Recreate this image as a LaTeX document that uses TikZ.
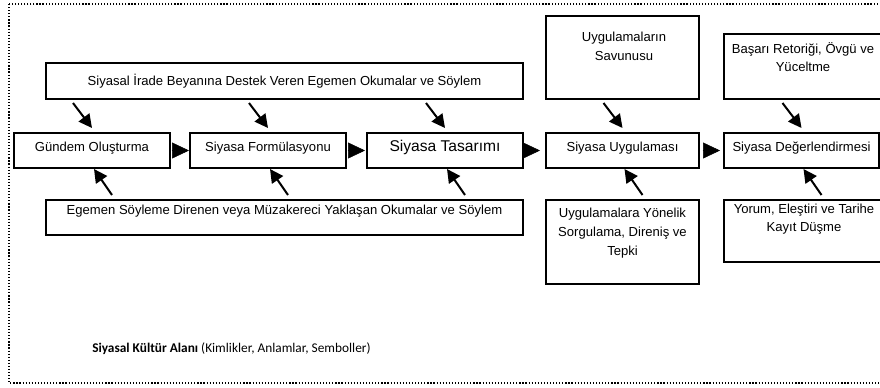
\documentclass[tikz,border=0pt]{standalone}
\usepackage{fontspec}
\setmainfont{Liberation Sans}
\newfontfamily\calibri{Carlito}
\usetikzlibrary{arrows.meta}
\tikzset{
  kutu/.style={draw, line width=1.3pt, inner sep=0pt, outer sep=0pt, font=\fontsize{9.8}{14}\selectfont, text height=6.5pt, text depth=4.7pt},
  boyut/.style 2 args={minimum width=#1*0.75pt, minimum height=#2*0.75pt},
  yazi/.style={inner sep=0pt, align=center, anchor=north, font=\fontsize{9.8}{14}\selectfont},
  ok/.style={line width=1.5pt, -{Triangle[length=10pt,width=10pt]}},
  ucgen/.style 2 args={-{Triangle[length=12.75pt,width=12pt]}, shorten <=#1*0.75pt, shorten >=#2*0.75pt}
}
\begin{document}
\begin{tikzpicture}[x=0.75pt, y=-0.75pt]
\useasboundingbox (0,0) rectangle (880,387);
\draw[black, line width=0.9pt, dash pattern=on 0.9pt off 1.4pt] (9,4) rectangle (920,383);
\node[kutu, boyut={477}{36}, text height=8pt, text depth=2pt] (ust) at (284.5,81) {Siyasal İrade Beyanına Destek Veren Egemen Okumalar ve Söylem};
\node[kutu, boyut={477}{35}, text height=6pt, text depth=9.8pt] (alt) at (284.5,217.5) {Egemen Söyleme Direnen veya Müzakereci Yaklaşan Okumalar ve Söylem};
\node[kutu, boyut={156}{35}] (gundem) at (92,150.5) {Gündem Oluşturma};
\node[kutu, boyut={156}{35}] (formul) at (268,150.5) {Siyasa Formülasyonu};
\node[kutu, boyut={156}{35}, font=\fontsize{11.7}{14}\selectfont] (tasarim) at (445,150.5) {Siyasa Tasarımı};
\node[kutu, boyut={153}{35}] (uygulama) at (622.5,150.5) {Siyasa Uygulaması};
\node[kutu, boyut={155}{35}] (deger) at (801.5,150.5) {Siyasa Değerlendirmesi};
\node[kutu, boyut={153}{83}] (savunu) at (622.5,57.5) {};
\node[yazi] (savunuyazi) at (624,31.7) {Uygulamaların\\Savunusu};
\node[kutu, boyut={157}{65}] (basari) at (802.5,66.5) {};
\node[yazi] (basariyazi) at (803,42) {Başarı Retoriği, Övgü ve\\Yüceltme};
\node[kutu, boyut={153}{84}] (sorgu) at (622.5,242) {};
\node[yazi] (sorguyazi) at (622.5,208) {Uygulamalara Yönelik\\Sorgulama, Direniş ve\\Tepki};
\node[kutu, boyut={157}{62}] (yorum) at (802.5,231) {};
\node[yazi] (yorumyazi) at (804,203.5) {Yorum, Eleştiri ve Tarihe\\Kayıt Düşme};
\node[anchor=base west, inner sep=0pt, font=\calibri\fontsize{10}{12}\selectfont] (alan) at (92,352) {\textbf{Siyasal Kültür Alanı} (Kimlikler, Anlamlar, Semboller)};
\foreach \k in {gundem,formul,tasarim,uygulama,deger}{
  \draw[ok] ([shift={(-19,-30)}]\k.north) -- ([shift={(0,-5)}]\k.north);
  \draw[ok] ([shift={(20,27)}]\k.south) -- ([shift={(2,1)}]\k.south);
}
\draw[ucgen={1.5}{1}] (gundem.east) -- (formul.west);
\draw[ucgen={1.5}{2}] (formul.east) -- (tasarim.west);
\draw[ucgen={-0.5}{6}] (tasarim.east) -- (uygulama.west);
\draw[ucgen={3.5}{4}] (uygulama.east) -- (deger.west);
\end{tikzpicture}
\end{document}
